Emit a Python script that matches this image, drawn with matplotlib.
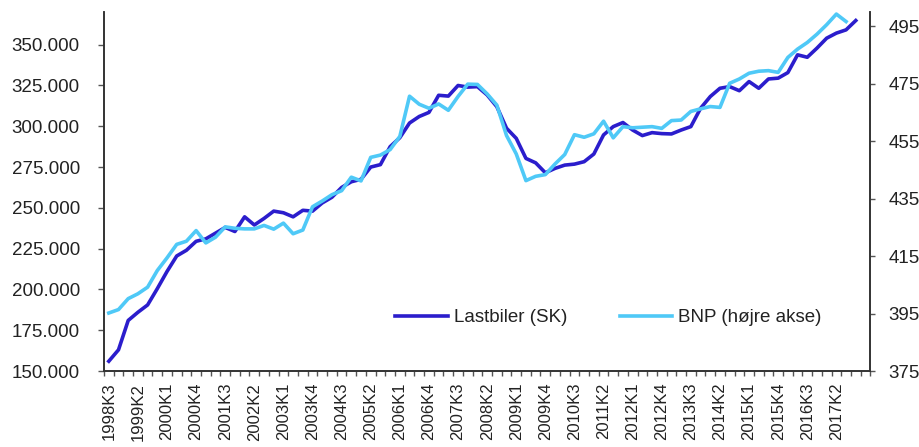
import numpy as np
import matplotlib
matplotlib.use("Agg")
import matplotlib.pyplot as plt
from matplotlib.ticker import FuncFormatter

plt.rcParams['font.family'] = ['Liberation Sans', 'DejaVu Sans']

# quarters 1998K3 .. 2017K4
quarters = []
for yr in range(1998, 2018):
    for q in range(1, 5):
        if yr == 1998 and q < 3:
            continue
        quarters.append("%dK%d" % (yr, q))

# Lastbiler (SK), left axis
lastbiler = [156000, 163000, 181000, 186000, 190500, 200500, 211000, 220500, 224000, 229500,
             231000, 234500, 238000, 235500, 244500, 239500, 243500, 248000, 247000, 244500,
             248500, 248000, 253000, 256500, 262500, 266000, 267500, 275000, 276500, 287500,
             293000, 302000, 306000, 308500, 319000, 318500, 325000, 324000, 324300, 319200,
             312000, 298800, 292600, 280300, 277600, 271500, 274200, 276200, 276800, 278300,
             283000, 294700, 299800, 302300, 297700, 294300, 296100, 295500, 295300, 297700,
             299800, 311000, 318200, 323300, 324300, 321800, 327400, 323300, 329000, 329500,
             332900, 343800, 342300, 347900, 354000, 357100, 359100, 364800]

# BNP, right axis
bnp = [395.2, 396.4, 400.2, 401.9, 404.2, 410.0, 414.4, 419.1, 420.2, 423.9,
       419.6, 421.6, 425.2, 424.7, 424.5, 424.5, 425.7, 424.4, 426.5, 422.8,
       424.1, 432.2, 434.2, 436.4, 437.8, 442.5, 441.2, 449.4, 450.2, 452.1,
       456.7, 470.7, 467.9, 466.5, 468.0, 465.8, 470.6, 474.9, 474.8, 471.5,
       467.6, 457.0, 450.6, 441.3, 442.8, 443.4, 447.1, 450.4, 457.3, 456.4,
       457.6, 462.0, 456.2, 460.1, 459.7, 459.9, 460.1, 459.5, 462.2, 462.4,
       465.4, 466.3, 467.1, 466.8, 475.2, 476.7, 478.7, 479.4, 479.6, 479.0,
       484.2, 487.1, 489.4, 492.3, 495.6, 499.3, 496.7]

dark = '#2b1dcc'
light = '#4fc9f7'
txt = '#222222'

fig, ax = plt.subplots(figsize=(9.2, 4.47), dpi=100)
fig.subplots_adjust(left=0.113, right=0.946, top=0.973, bottom=0.170)
ax2 = ax.twinx()

n = len(quarters) + 1  # one empty slot at the end of the axis
l1, = ax.plot(np.arange(len(lastbiler)), lastbiler, color=dark, lw=2.6)
l2, = ax2.plot(np.arange(len(bnp)), bnp, color=light, lw=2.6)

ax.set_xlim(-0.5, n - 0.5)
ax.set_ylim(150000, 370000)
ax2.set_ylim(375, 500)
ax.set_yticks(np.arange(150000, 350001, 25000))
ax2.set_yticks(np.arange(375, 496, 20))
ax.yaxis.set_major_formatter(FuncFormatter(lambda v, p: "{:,.0f}".format(v).replace(",", ".")))

# tick marks at category boundaries, labels every 3rd quarter
ax.set_xticks(np.arange(-0.5, n, 1.0))
ax.set_xticklabels([])
ax.set_xticks(np.arange(0, len(quarters), 3), minor=True)
ax.set_xticklabels(quarters[::3], minor=True, rotation=90)
ax.tick_params(axis='x', which='major', length=3.6, width=1, color='#555555')
ax.tick_params(axis='x', which='minor', length=0, pad=8.5, labelsize=12, labelcolor=txt)
ax.tick_params(axis='y', length=4.3, width=1, pad=13, labelsize=13.5, labelcolor=txt, color='#555555')
ax2.tick_params(axis='y', length=3.6, width=1, pad=9.4, labelsize=13.5, labelcolor=txt, color='#555555')

for a in (ax, ax2):
    a.spines['top'].set_visible(False)
    for s in ('left', 'right', 'bottom'):
        a.spines[s].set_color('#333333')
        a.spines[s].set_linewidth(1.2)

ax2.legend([l1, l2], ['Lastbiler (SK)', 'BNP (højre akse)'], loc='center left',
           bbox_to_anchor=(0.380, 0.148), ncol=2, frameon=False, fontsize=13.5,
           borderpad=0, borderaxespad=0,
           handlelength=2.8, handletextpad=0.32, columnspacing=2.8, labelcolor=txt)

fig.savefig('out.png', dpi=100)
